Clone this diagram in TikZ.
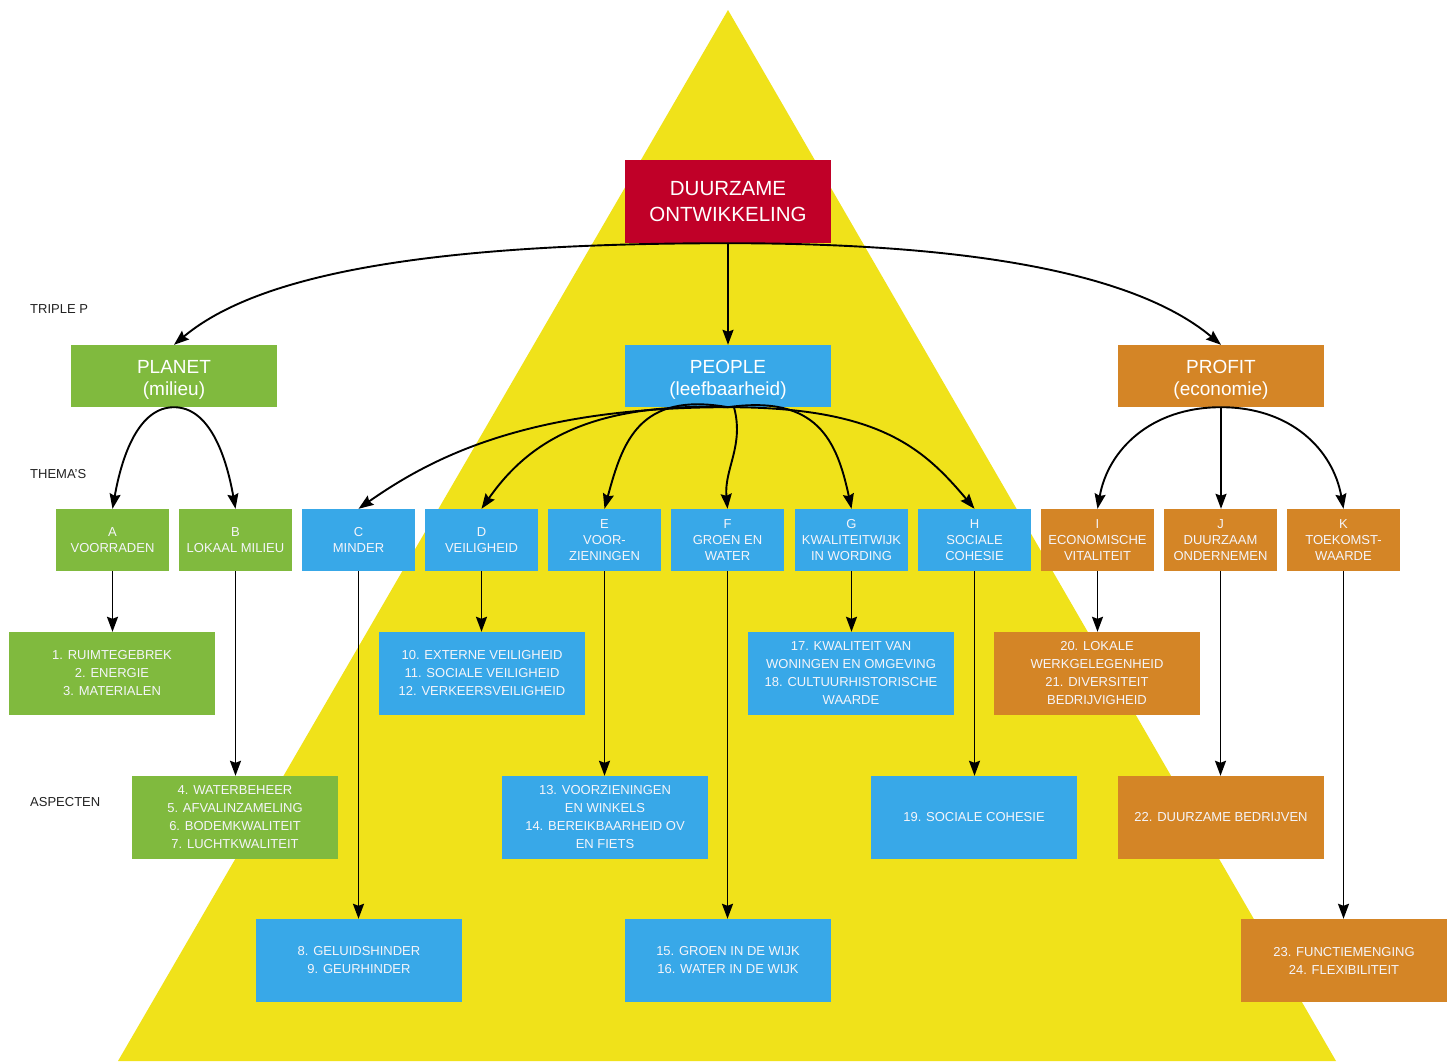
\documentclass[tikz,border=0pt]{standalone}
\usepackage{fontspec}
\setmainfont{Liberation Sans}
\usetikzlibrary{arrows.meta,calc}
\definecolor{cred}{RGB}{192,0,40}
\definecolor{cgreen}{RGB}{128,186,62}
\definecolor{cblue}{RGB}{56,168,232}
\definecolor{corange}{RGB}{212,133,38}
\definecolor{cyellow}{RGB}{240,226,26}
\definecolor{ctext}{RGB}{34,34,34}
\definecolor{boxtext}{RGB}{245,245,250}
\newcommand{\toppad}{\rule{0pt}{21pt}}
\begin{document}
\begin{tikzpicture}[x=1pt,y=1pt,
  box/.style={minimum width=206pt, minimum height=62pt, inner sep=0pt, align=center, text=white, font=\fontsize{19}{22}\selectfont},
  theme/.style={minimum width=113pt, minimum height=62pt, inner sep=0pt, align=center, text=boxtext, font=\fontsize{13}{16}\selectfont},
  aspect/.style={minimum width=206pt, minimum height=83pt, inner sep=0pt, align=center, text=boxtext, font=\fontsize{13}{18}\selectfont},
  lbl/.style={anchor=west, inner sep=0pt, font=\fontsize{13}{16}\selectfont, text=ctext},
  arr/.style={line width=1.9pt, -{Stealth[length=15pt,width=11pt,inset=2pt]}}
]
\useasboundingbox (0,0) rectangle (1454,-1061);
\fill[white] (0,0) rectangle (1454,-1061);
\fill[cyellow] (728,-10) -- (1336,-1061) -- (118,-1061) -- cycle;

% labels
\node[lbl] (l1) at (30,-309) {TRIPLE P};
\node[lbl] (l2) at (30,-474) {THEMA’S};
\node[lbl] (l3) at (30,-802) {ASPECTEN};

% top
\node[fill=cred, minimum width=206pt, minimum height=83pt, inner sep=0pt, align=center, text=white, font=\fontsize{20.5}{26}\selectfont] (dur) at (728,-201.5) {DUURZAME\\ONTWIKKELING};
\node[box, fill=cgreen] (planet) at (174,-376) {\toppad PLANET\\(milieu)};
\node[box, fill=cblue] (people) at (728,-376) {\toppad PEOPLE\\(leefbaarheid)};
\node[box, fill=corange] (profit) at (1221,-376) {\toppad PROFIT\\(economie)};

% themes
\node[theme, fill=cgreen] (A) at (112.5,-540) {A\\VOORRADEN};
\node[theme, fill=cgreen] (B) at (235.5,-540) {B\\LOKAAL MILIEU};
\node[theme, fill=cblue] (C) at (358.5,-540) {C\\MINDER};
\node[theme, fill=cblue] (D) at (481.5,-540) {D\\VEILIGHEID};
\node[theme, fill=cblue] (E) at (604.5,-540) {E\\VOOR-\\ZIENINGEN};
\node[theme, fill=cblue] (F) at (727.5,-540) {F\\GROEN EN\\WATER};
\node[theme, fill=cblue] (G) at (851.5,-540) {G\\KWALITEITWIJK\\IN WORDING};
\node[theme, fill=cblue] (H) at (974.5,-540) {H\\SOCIALE\\COHESIE};
\node[theme, fill=corange] (I) at (1097.5,-540) {I\\ECONOMISCHE\\VITALITEIT};
\node[theme, fill=corange] (J) at (1220.5,-540) {J\\DUURZAAM\\ONDERNEMEN};
\node[theme, fill=corange] (K) at (1343.5,-540) {K\\TOEKOMST-\\WAARDE};

% aspects
\node[aspect, fill=cgreen] (a1) at (112,-673.5) {1. RUIMTEGEBREK\\2. ENERGIE\\3. MATERIALEN};
\node[aspect, fill=cblue] (a10) at (482,-673.5) {10. EXTERNE VEILIGHEID\\11. SOCIALE VEILIGHEID\\12. VERKEERSVEILIGHEID};
\node[aspect, fill=cblue] (a17) at (851,-673.5) {17. KWALITEIT VAN\\WONINGEN EN OMGEVING\\18. CULTUURHISTORISCHE\\WAARDE};
\node[aspect, fill=corange] (a20) at (1097,-673.5) {20. LOKALE\\WERKGELEGENHEID\\21. DIVERSITEIT\\BEDRIJVIGHEID};
\node[aspect, fill=cgreen] (a4) at (235,-817.5) {4. WATERBEHEER\\5. AFVALINZAMELING\\6. BODEMKWALITEIT\\7. LUCHTKWALITEIT};
\node[aspect, fill=cblue] (a13) at (605,-817.5) {13. VOORZIENINGEN\\EN WINKELS\\14. BEREIKBAARHEID OV\\EN FIETS};
\node[aspect, fill=cblue] (a19) at (974,-817.5) {19. SOCIALE COHESIE};
\node[aspect, fill=corange] (a22) at (1221,-817.5) {22. DUURZAME BEDRIJVEN};
\node[aspect, fill=cblue] (a8) at (359,-960.5) {8. GELUIDSHINDER\\9. GEURHINDER};
\node[aspect, fill=cblue] (a15) at (728,-960.5) {15. GROEN IN DE WIJK\\16. WATER IN DE WIJK};
\node[aspect, fill=corange] (a23) at (1344,-960.5) {23. FUNCTIEMENGING\\24. FLEXIBILITEIT};

% top connectors
\draw[arr] (dur.south) -- (people.north);
\draw[arr] (dur.south) to[out=180,in=40,out distance=300pt,in distance=110pt] (planet.north);
\draw[arr] (dur.south) to[out=0,in=140,out distance=270pt,in distance=100pt] (profit.north);

% planet
\draw[arr] (planet.south) to[out=180,in=80,out distance=35pt,in distance=55pt] (A.north);
\draw[arr] (planet.south) to[out=0,in=100,out distance=35pt,in distance=55pt] (B.north);

% people
\draw[arr] (people.south) to[out=180,in=35,out distance=200pt,in distance=90pt] (C.north);
\draw[arr] (people.south) to[out=178,in=55,out distance=140pt,in distance=80pt] (D.north);
\draw[arr] (people.south) to[out=170,in=75,out distance=90pt,in distance=70pt] (E.north);
\draw[arr] ($(people.south)+(6,0)$) to[out=-75,in=95,out distance=40pt,in distance=40pt] (F.north);
\draw[arr] (people.south) to[out=8,in=102,out distance=90pt,in distance=70pt] (G.north);
\draw[arr] (people.south) to[out=0,in=130,out distance=150pt,in distance=80pt] (H.north);

% profit
\draw[arr] (profit.south) to[out=180,in=80,out distance=70pt,in distance=60pt] (I.north);
\draw[arr] (profit.south) -- (profit.south |- J.north);
\draw[arr] (profit.south) to[out=0,in=100,out distance=70pt,in distance=60pt] (K.north);

% verticals
\draw[arr] (A.south) -- (A.south |- a1.north);
\draw[arr] (B.south) -- (B.south |- a4.north);
\draw[arr] (C.south) -- (C.south |- a8.north);
\draw[arr] (D.south) -- (D.south |- a10.north);
\draw[arr] (E.south) -- (E.south |- a13.north);
\draw[arr] (F.south) -- (F.south |- a15.north);
\draw[arr] (G.south) -- (G.south |- a17.north);
\draw[arr] (H.south) -- (H.south |- a19.north);
\draw[arr] (I.south) -- (I.south |- a20.north);
\draw[arr] (J.south) -- (J.south |- a22.north);
\draw[arr] (K.south) -- (K.south |- a23.north);
\end{tikzpicture}
\end{document}
